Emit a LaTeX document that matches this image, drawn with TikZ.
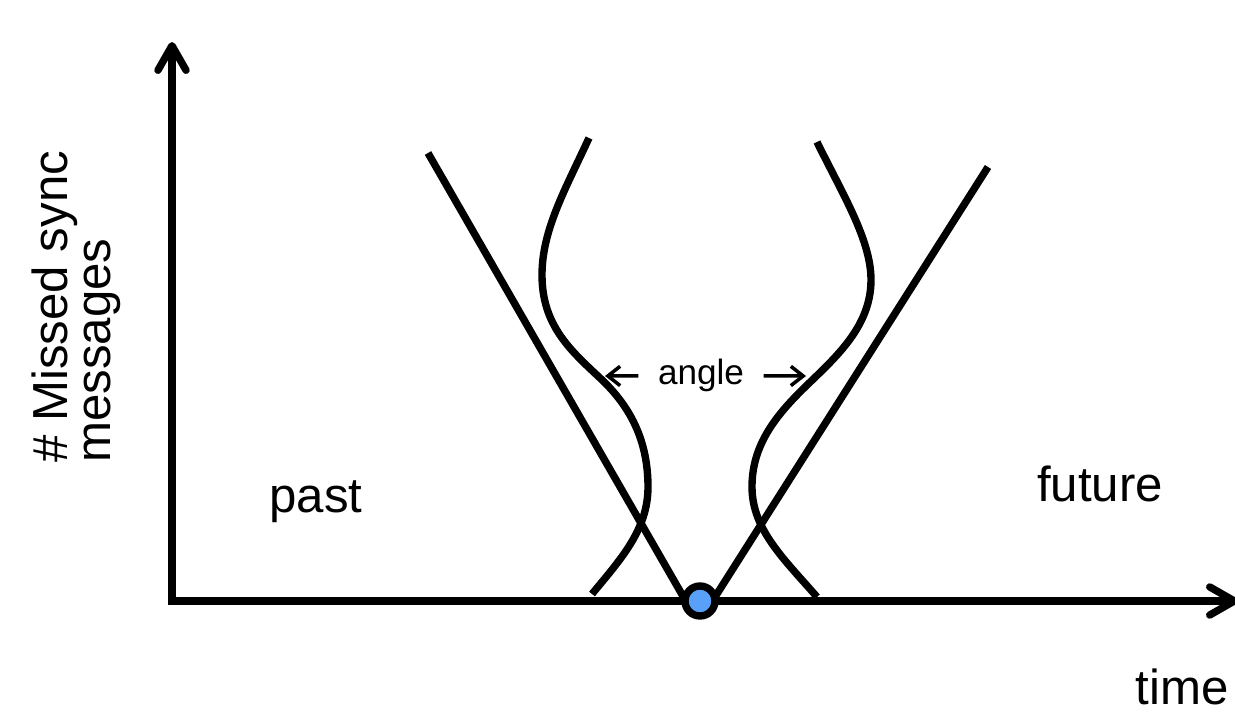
\documentclass[tikz,border=0pt]{standalone}
\usepackage{fontspec}
\setmainfont{Liberation Sans}
\usetikzlibrary{arrows.meta}
\definecolor{dotblue}{RGB}{88,160,248}

\begin{document}
\begin{tikzpicture}[x=0.02cm,y=-0.02cm,
    axis/.style={line width=4.2pt,line join=miter},
    curve/.style={line width=4.2pt},
    lbl/.style={font=\fontsize{28}{34}\selectfont,inner sep=0pt}]
  \useasboundingbox (0,0) rectangle (1235,715);
  % axes
  \coordinate (origin) at (172,601);
  \coordinate (ytip) at (172,42);
  \coordinate (xtip) at (1238,601);
  \draw[axis,{Straight Barb[round,length=14pt,width=16pt]}-{Straight Barb[round,length=14pt,width=16pt]}]
    (ytip) -- (origin) -- (xtip);
  % straight lines
  \coordinate (ltop) at (428,153);
  \coordinate (lbot) at (684,598);
  \coordinate (rtop) at (988,167);
  \coordinate (rbot) at (715,597);
  \draw[curve] (ltop) -- (lbot);
  \draw[curve] (rtop) -- (rbot);
  % curved lines
  \draw[curve] (589,138) .. controls (565,190) and (542,230) .. (542,275)
    .. controls (542,325) and (570,350) .. (600,378)
    .. controls (630,406) and (648,440) .. (648,487)
    .. controls (648,530) and (620,560) .. (592,594);
  \draw[curve] (817,142) .. controls (843,195) and (871,240) .. (871,280)
    .. controls (871,330) and (830,362) .. (800,392)
    .. controls (770,422) and (752,450) .. (752,487)
    .. controls (752,530) and (785,560) .. (817,597);
  \node[draw,fill=dotblue,circle,line width=4.2pt,minimum size=0.6cm,inner sep=0pt] (dot) at (700,601) {};
  % labels
  \node[lbl,anchor=base] (past) at (316,513) {past};
  \node[lbl,anchor=base] (future) at (1100,502) {future};
  \node[lbl,anchor=base] (time) at (1182,705) {time};
  \node[lbl,rotate=90,anchor=south west,align=left,font=\fontsize{28}{24.5}\selectfont] (ylabel)
    at (121,463) {\# Missed sync\\messages};
  \node[anchor=base,font=\fontsize{20}{24}\selectfont,inner xsep=11pt,inner ysep=0pt] (angle) at (701,385) {angle};
  \coordinate (ltip) at (605,376);
  \coordinate (rtip) at (806,376);
  \draw[line width=2pt,-{Straight Barb[length=7pt,width=11pt]}] (angle.west) -- (ltip);
  \draw[line width=2pt,-{Straight Barb[length=7pt,width=11pt]}] (angle.east) -- (rtip);
\end{tikzpicture}
\end{document}
